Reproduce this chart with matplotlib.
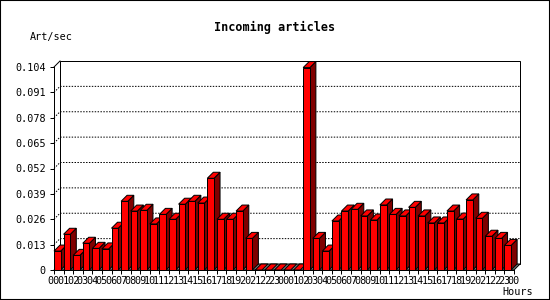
"""
Incoming articles per second, 3D-style bar chart (48 hourly bars)
"""

import matplotlib
matplotlib.use('Agg')
import matplotlib.pyplot as plt
from matplotlib.patches import Polygon, Rectangle

# Data
hour_labels = ['%02d' % h for h in range(24)] * 2 + ['00']
art_per_sec = [
    0.0097, 0.0183, 0.0075, 0.0137, 0.0111, 0.0108, 0.0214, 0.0352,
    0.0302, 0.0306, 0.0236, 0.0285, 0.0260, 0.0337, 0.0352, 0.0343,
    0.0470, 0.0260, 0.0260, 0.0302, 0.0162, 0.0, 0.0, 0.0,
    0.0, 0.0, 0.1037, 0.0162, 0.0097, 0.0251, 0.0302, 0.0311,
    0.0277, 0.0256, 0.0333, 0.0285, 0.0277, 0.0321, 0.0277, 0.0241,
    0.0241, 0.0302, 0.0261, 0.0359, 0.0265, 0.0173, 0.0162, 0.0126,
]
y_ticks = [0.013 * k for k in range(9)]
y_tick_labels = ['0'] + ['%.3f' % t for t in y_ticks[1:]]

# Style
W, H = 550, 300
FONT = 'DejaVu Sans Mono'
FRONT = '#ff0000'
SIDE = '#800000'
FLOOR = '#808080'
LW = 0.72   # 1 px
ax_left, ax_bottom, ax_w, ax_h = 54, 30, 460, 203   # pixels
depth_px = 6
bar_frac = 0.70

fig = plt.figure(figsize=(W / 100, H / 100), dpi=100)
fig.patch.set_facecolor('white')
ax = fig.add_axes([ax_left / W, ax_bottom / H, ax_w / W, ax_h / H])

n = len(art_per_sec)
ymax = y_ticks[-1]
ax.set_xlim(0, n)
ax.set_ylim(0, ymax)
ax.patch.set_visible(False)

# depth in data units
dx = depth_px / ax_w * n
dy = depth_px / ax_h * ymax

# back wall
ax.add_patch(Rectangle((dx, dy), n, ymax, facecolor='white', edgecolor='black',
                       lw=LW, zorder=1, clip_on=False))
# top-left diagonal joining front axis and wall
ax.plot([0, dx], [ymax, ymax + dy], color='black', lw=LW, zorder=2, clip_on=False)

# dotted grid on the wall, running down to the front axis
for t in y_ticks[1:-1]:
    ax.plot([0, dx, n + dx], [t, t + dy, t + dy], color='black', lw=LW,
            linestyle=(0, (1.44, 1.44)), zorder=2, clip_on=False)

# floor
ax.add_patch(Polygon([(0, 0), (n, 0), (n + dx, dy), (dx, dy)], closed=True,
                     facecolor=FLOOR, edgecolor='black', lw=LW, zorder=3,
                     clip_on=False))

# bars, left to right so each one hides the previous side face
for i, v in enumerate(art_per_sec):
    x0, x1 = i, i + bar_frac
    z = 4 + i * 0.01
    if v > 0:
        ax.add_patch(Polygon([(x1, 0), (x1 + dx, dy), (x1 + dx, v + dy), (x1, v)],
                             closed=True, facecolor=SIDE, edgecolor='black',
                             lw=LW, zorder=z, clip_on=False))
    ax.add_patch(Polygon([(x0, v), (x0 + dx, v + dy), (x1 + dx, v + dy), (x1, v)],
                         closed=True, facecolor=FRONT, edgecolor='black',
                         lw=LW, zorder=z, clip_on=False))
    if v > 0:
        ax.add_patch(Rectangle((x0, 0), bar_frac, v, facecolor=FRONT,
                               edgecolor='black', lw=LW, zorder=z, clip_on=False))

# axes lines and ticks
for s in ['top', 'right']:
    ax.spines[s].set_visible(False)
for s in ['left', 'bottom']:
    ax.spines[s].set_linewidth(LW)
    ax.spines[s].set_zorder(10)

ax.set_yticks(y_ticks)
ax.set_yticklabels(y_tick_labels)
ax.set_xticks(range(n + 1))
ax.set_xticklabels(hour_labels)
ax.tick_params(axis='y', length=3, width=LW, pad=3, labelsize=7.3)
ax.tick_params(axis='x', length=3, width=LW, pad=1.5, labelsize=7.3)
for lbl in ax.get_xticklabels() + ax.get_yticklabels():
    lbl.set_family(FONT)

# texts
fig.text(275 / W, 1 - 27 / H, 'Incoming articles', ha='center', va='center',
         fontsize=8.5, fontweight='bold', family=FONT)
fig.text(30 / W, 1 - 37 / H, 'Art/sec', ha='left', va='center', fontsize=7.3,
         family=FONT)
fig.text(518 / W, 1 - 292 / H, 'Hours', ha='center', va='center', fontsize=7.3,
         family=FONT)

# image border
fig.patches.append(Rectangle((0, 0), 1, 1, transform=fig.transFigure,
                             fill=False, edgecolor='black', lw=1.5))

plt.savefig('out.png', dpi=100, facecolor='white')
plt.close()
